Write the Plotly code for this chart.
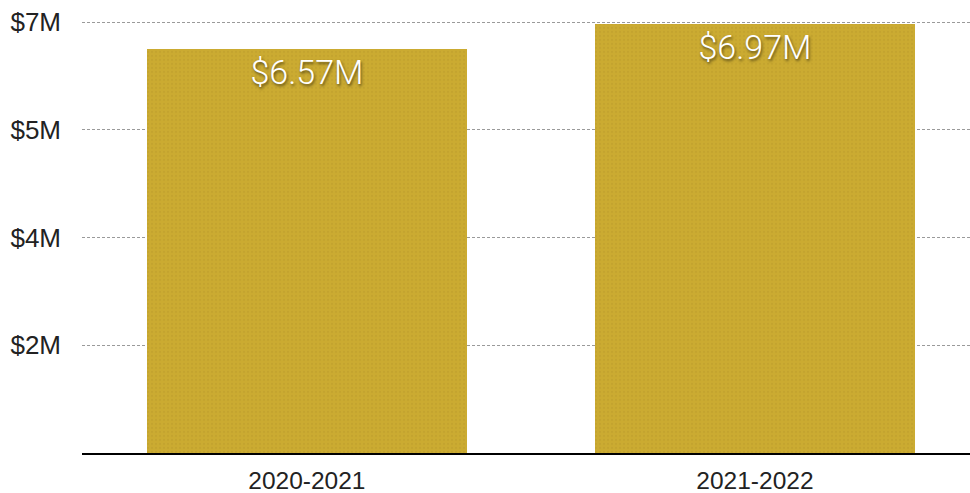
import plotly.graph_objects as go

# Revenue by fiscal year
seasons = ["2020-2021", "2021-2022"]
revenue = [6.57e6, 6.97e6]
labels = ["$6.57M", "$6.97M"]

# Y-axis ticks (quarter steps of the $7M scale, rounded for display)
tick_vals = [1.75e6, 3.5e6, 5.25e6, 7e6]
tick_text = ["$2M", "$4M", "$5M", "$7M"]

gold = "rgb(203,171,49)"

fig = go.Figure(
    go.Bar(
        x=seasons,
        y=revenue,
        text=labels,
        textposition="inside",
        insidetextanchor="end",
        textangle=0,
        textfont=dict(family="Roboto", size=34, color="white", weight=300,
                      shadow="1px 2px 3px rgba(0,0,0,0.55)"),
        width=0.714,
        marker=dict(
            color=gold,
            line=dict(width=0),
            pattern=dict(shape=".", fgcolor="rgb(170,140,40)", fgopacity=0.25,
                         size=4, solidity=0.25, fillmode="overlay"),
        ),
        hoverinfo="skip",
    )
)

fig.update_layout(
    width=970,
    height=493,
    margin=dict(l=82, r=0, t=10, b=40),
    paper_bgcolor="white",
    plot_bgcolor="white",
    showlegend=False,
    font=dict(family="Liberation Sans", color="#222222"),
    bargap=0,
)

fig.update_xaxes(
    type="category",
    range=[-0.502, 1.48],
    showline=True,
    linecolor="black",
    linewidth=2,
    showgrid=False,
    ticks="",
    tickfont=dict(family="Liberation Sans", size=24.5, color="#222222"),
    ticklabelstandoff=5,
)

fig.update_yaxes(
    range=[0, 7.2e6],
    tickvals=tick_vals,
    ticktext=tick_text,
    showgrid=True,
    gridcolor="#9a9a9a",
    gridwidth=1,
    griddash="3px,2px",
    zeroline=False,
    showline=False,
    ticks="",
    tickfont=dict(family="Liberation Sans", size=26, color="#222222"),
    ticklabelstandoff=20,
)

fig.write_html("out.html")
